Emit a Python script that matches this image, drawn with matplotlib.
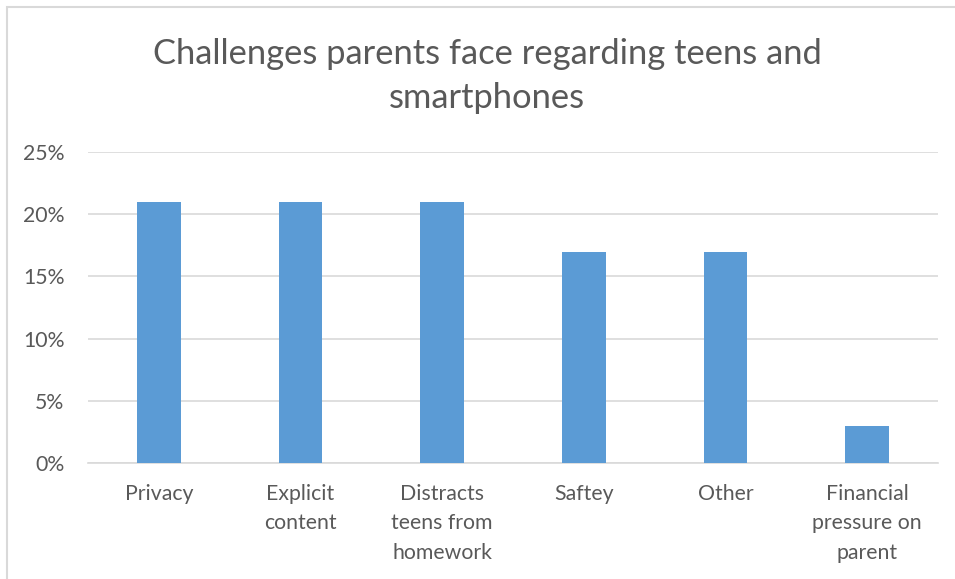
import matplotlib.pyplot as plt
from matplotlib.patches import Rectangle
from matplotlib.ticker import PercentFormatter

# Data
categories = ['Privacy', 'Explicit\ncontent', 'Distracts\nteens from\nhomework',
              'Saftey', 'Other', 'Financial\npressure on\nparent']
shares = [0.21, 0.21, 0.21, 0.17, 0.17, 0.03]

plt.rcParams['font.family'] = ['Lato', 'DejaVu Sans']
text_color = '#595959'

fig = plt.figure(figsize=(9.55, 5.79), dpi=100)
ax = fig.add_axes([88 / 955, 1 - 463 / 579, 850 / 955, (463 - 152) / 579])

x = range(len(categories))
ax.bar(x, shares, width=0.31, color='#5B9BD5', zorder=3)

ax.set_xlim(-0.5, len(categories) - 0.5)
ax.set_ylim(0, 0.25)
ax.set_yticks([0, 0.05, 0.10, 0.15, 0.20, 0.25])
ax.yaxis.set_major_formatter(PercentFormatter(1.0, decimals=0))
ax.set_xticks(list(x))
ax.set_xticklabels(categories, linespacing=1.6, va='top')
ax.tick_params(axis='both', length=0, labelsize=15.3, colors=text_color)
ax.tick_params(axis='x', pad=15)
ax.tick_params(axis='y', pad=17)
ax.grid(axis='y', color='#D9D9D9', linewidth=1.2, zorder=0)
for s in ['top', 'right', 'left']:
    ax.spines[s].set_visible(False)
ax.spines['bottom'].set_color('#D9D9D9')
ax.spines['bottom'].set_linewidth(1.2)

fig.text(487 / 955, 1 - 76 / 579, 'Challenges parents face regarding teens and\nsmartphones',
         ha='center', va='center', fontsize=24.8, color=text_color, linespacing=1.5)

# chart border
fig.patches.append(Rectangle((7 / 955, -0.1), 1.0, 1 - 7 / 579 + 0.1, transform=fig.transFigure,
                             fill=False, edgecolor='#D9D9D9', linewidth=1.5))

fig.savefig('out.png', dpi=100)
